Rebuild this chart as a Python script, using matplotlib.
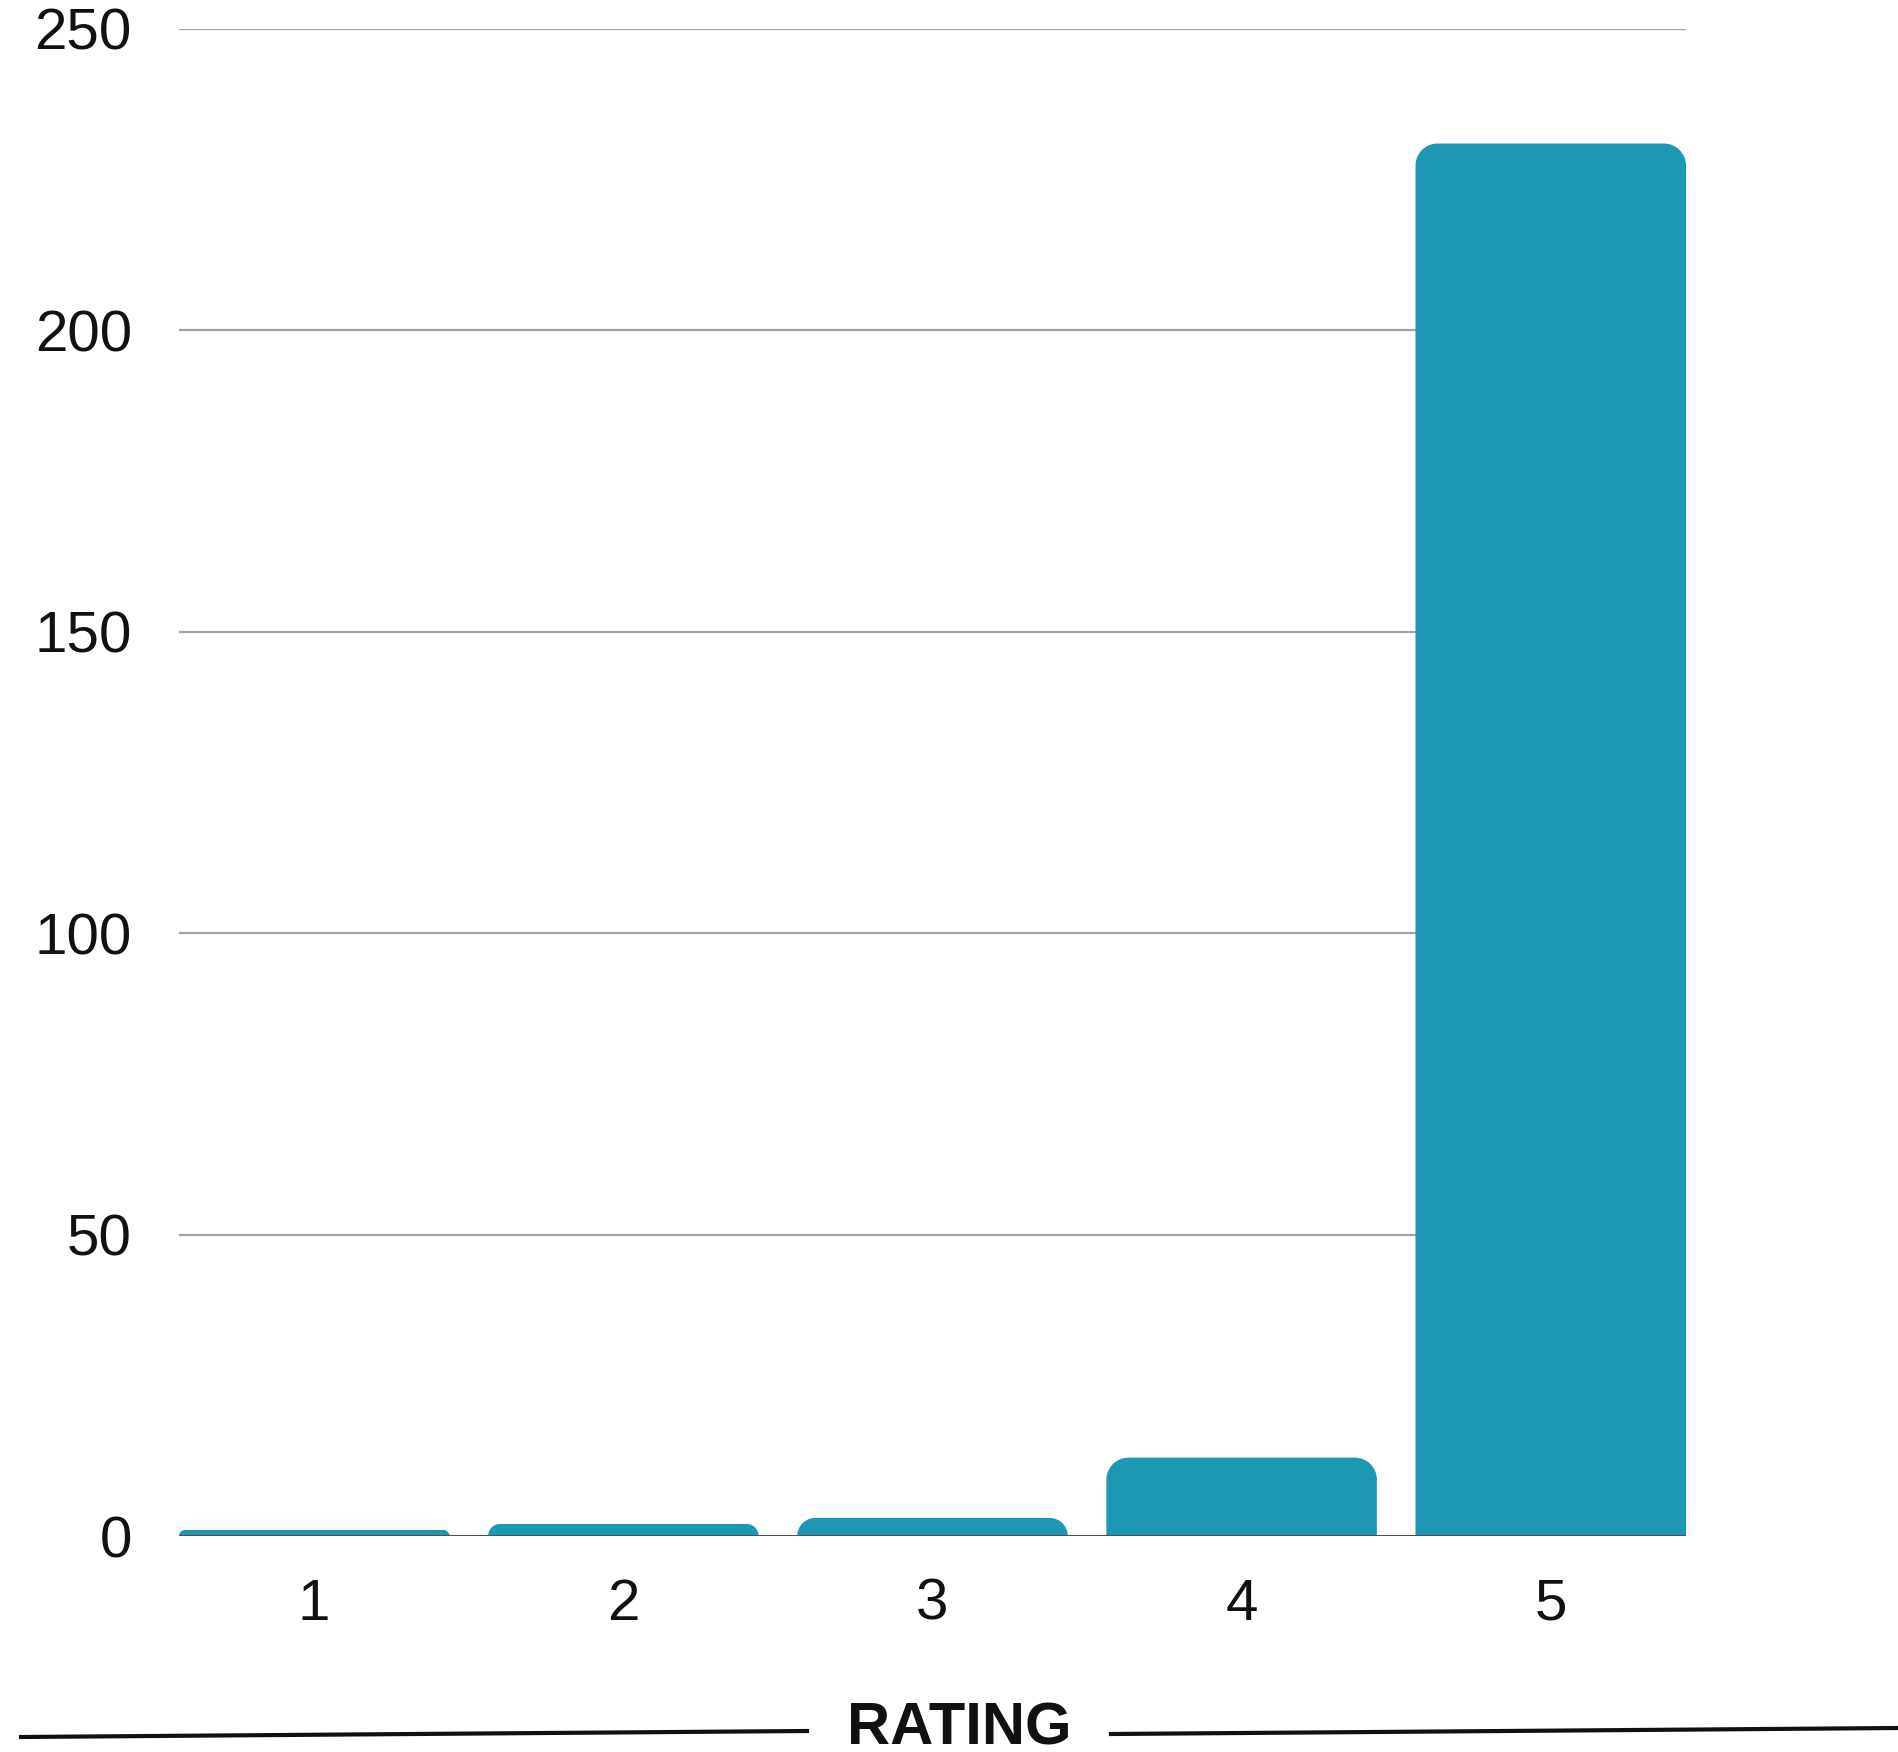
import matplotlib.pyplot as plt
from matplotlib.path import Path
from matplotlib.patches import PathPatch
from matplotlib.lines import Line2D

plt.rcParams['font.family'] = ['Liberation Sans', 'DejaVu Sans']

# Numero de valoraciones por puntuacion
ratings = ['1', '2', '3', '4', '5']
counts = [1, 2, 3, 13, 231]
y_ticks = [0, 50, 100, 150, 200, 250]

bar_color = '#1C98B5'
W, H = 1898, 1752
bar_w = 0.875

fig = plt.figure(figsize=(W / 100, H / 100), dpi=100)
ax = fig.add_axes([179 / W, 216 / H, 1507 / W, 1507 / H])
# las barras de los extremos tocan los bordes del eje
ax.set_xlim(1 - bar_w / 2, len(ratings) + bar_w / 2)
ax.set_ylim(0, 250)

# lineas horizontales de la rejilla
for t in y_ticks[1:]:
    ax.axhline(t, color='#a3a3a3', lw=1.6, zorder=1)
ax.axhline(0, color='#505050', lw=2.2, zorder=3)

# factores pixel -> datos para redondear solo las esquinas de arriba
px_x = 1507 / (len(ratings) - 1 + bar_w)
px_y = 1507 / 250
k = 0.5523
radius_px = 22

for i, c in enumerate(counts):
    xc = i + 1
    x0, x1 = xc - bar_w / 2, xc + bar_w / 2
    r = min(radius_px, c * px_y)
    rx, ry = r / px_x, r / px_y
    verts = [
        (x0, 0), (x0, c - ry),
        (x0, c - ry + k * ry), (x0 + rx - k * rx, c), (x0 + rx, c),
        (x1 - rx, c),
        (x1 - rx + k * rx, c), (x1, c - ry + k * ry), (x1, c - ry),
        (x1, 0), (x0, 0),
    ]
    codes = [Path.MOVETO, Path.LINETO,
             Path.CURVE4, Path.CURVE4, Path.CURVE4,
             Path.LINETO,
             Path.CURVE4, Path.CURVE4, Path.CURVE4,
             Path.LINETO, Path.CLOSEPOLY]
    ax.add_patch(PathPatch(Path(verts, codes), facecolor=bar_color,
                           edgecolor='none', zorder=2))

ax.set_yticks(y_ticks)
ax.set_xticks(range(1, len(ratings) + 1))
ax.set_xticklabels(ratings)
ax.tick_params(axis='y', length=0, pad=34, labelsize=42, labelcolor='#111111')
ax.tick_params(axis='x', length=0, pad=30, labelsize=42, labelcolor='#111111')
for s in ax.spines.values():
    s.set_visible(False)

# titulo del eje x con lineas a los lados
fig.text(959 / W, 1 - 1729 / H, 'RATING', ha='center', va='center',
         fontsize=43, fontweight='bold', color='#111111')
fig.add_artist(Line2D([21 / W, 807 / W], [1 - 1737 / H, 1 - 1731 / H],
                      transform=fig.transFigure, color='#111111', lw=3))
fig.add_artist(Line2D([1111 / W, 1898 / W], [1 - 1734 / H, 1 - 1728 / H],
                      transform=fig.transFigure, color='#111111', lw=3))

fig.savefig('out.png', dpi=100, facecolor='white')
